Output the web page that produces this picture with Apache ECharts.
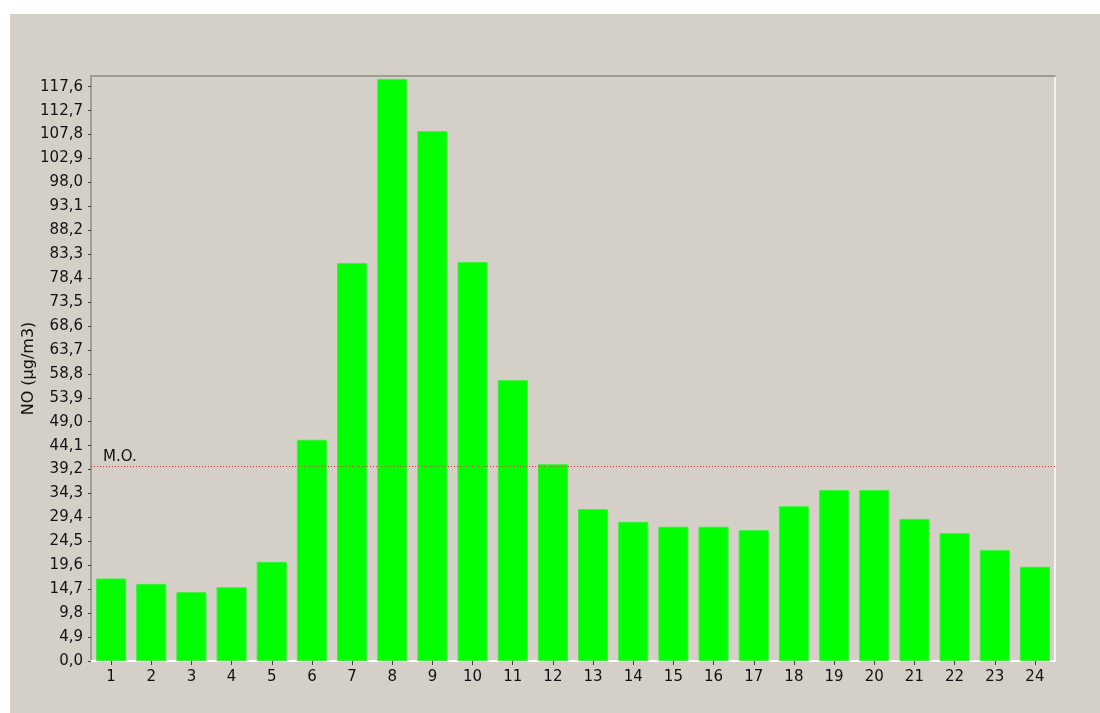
<!DOCTYPE html>
<html>
<head>
<meta charset="utf-8">
<script src="https://cdn.jsdelivr.net/npm/echarts@6/dist/echarts.min.js"></script>
<style>
  html, body { margin: 0; padding: 0; background: #ffffff; width: 1100px; height: 713px; overflow: hidden; }
  #chart { position: absolute; left: 10px; top: 14px; width: 1090px; height: 699px; background: #d4d0c8; }
</style>
</head>
<body>
<div id="chart"></div>
<script>
const hours = ['1','2','3','4','5','6','7','8','9','10','11','12','13','14','15','16','17','18','19','20','21','22','23','24'];
const noValues = [16.9, 15.8, 14.1, 15.1, 20.3, 45.3, 81.5, 119.2, 108.5, 81.7, 57.5, 40.3,
                  31.1, 28.5, 27.5, 27.5, 26.8, 31.7, 35.0, 35.0, 29.1, 26.2, 22.7, 19.3];
const yMin = 0;
const yMax = 119.8;
const yStep = 4.9;
const yAxisTitle = 'NO (µg/m3)';
const meanLabel = 'M.O.';

const fontFamily = 'DejaVu Sans';
const chart = echarts.init(document.getElementById('chart'), null, { renderer: 'canvas' });

function fmt(v) {
  const k = Math.round(v / yStep * 1000) / 1000;
  if (Math.abs(k - Math.round(k)) > 1e-6) return '';
  return (Math.round(k) * yStep).toFixed(1).replace('.', ',');
}

chart.setOption({
  backgroundColor: '#d4d0c8',
  animation: false,
  grid: { left: 81, right: 45, top: 62, bottom: 52, containLabel: false, outerBoundsMode: 'none' },
  xAxis: [{
    type: 'category',
    data: hours,
    position: 'bottom',
    axisLine: { show: true, onZero: false, lineStyle: { color: '#ffffff', width: 2 } },
    axisTick: { show: true, alignWithLabel: true, length: 4, lineStyle: { color: '#404040' } },
    axisLabel: { color: '#111111', fontFamily: fontFamily, fontSize: 15, margin: 9 },
    splitLine: { show: false }
  }, {
    type: 'category',
    data: hours,
    position: 'top',
    axisLine: { show: true, onZero: false, lineStyle: { color: '#a09c96', width: 2 } },
    axisTick: { show: false },
    axisLabel: { show: false }
  }],
  yAxis: [{
    type: 'value',
    min: yMin,
    max: yMax,
    interval: yStep,
    name: yAxisTitle,
    nameLocation: 'middle',
    nameGap: 54,
    nameMoveOverlap: false,
    nameRotate: 90,
    nameTextStyle: { color: '#111111', fontFamily: fontFamily, fontSize: 16 },
    axisLine: { show: true, onZero: false, lineStyle: { color: '#a09c96', width: 2 } },
    axisTick: { show: true, length: 3, lineStyle: { color: '#404040' } },
    axisLabel: { color: '#111111', fontFamily: fontFamily, fontSize: 15, margin: 8, formatter: fmt, showMaxLabel: false },
    splitLine: { show: false }
  }, {
    type: 'value',
    min: yMin,
    max: yMax,
    position: 'right',
    axisLine: { show: true, onZero: false, lineStyle: { color: '#f4f2ee', width: 2 } },
    axisTick: { show: false },
    axisLabel: { show: false },
    splitLine: { show: false }
  }],
  series: [{
    type: 'bar',
    data: noValues,
    xAxisIndex: 0,
    yAxisIndex: 0,
    barCategoryGap: '25%',
    itemStyle: { color: '#00ff00', borderColor: '#3cf03c', borderWidth: 1 },
    markLine: {
      silent: true,
      symbol: 'none',
      data: [{ type: 'average', name: meanLabel }],
      lineStyle: { color: '#e03030', type: [1, 2], width: 1 },
      label: {
        show: true,
        position: 'insideStartTop',
        formatter: meanLabel,
        color: '#111111',
        fontFamily: fontFamily,
        fontSize: 15,
        distance: [12, 2]
      }
    }
  }]
});
</script>
</body>
</html>
